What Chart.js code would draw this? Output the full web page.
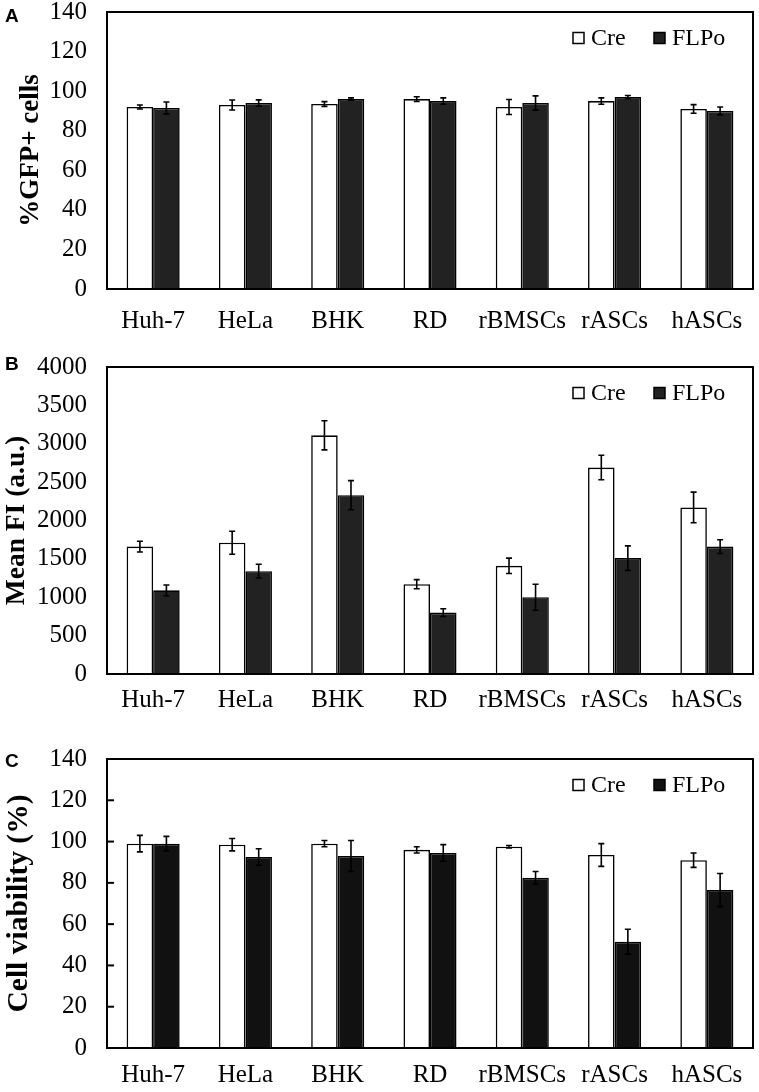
<!DOCTYPE html>
<html>
<head>
<meta charset="utf-8">
<script src="https://cdn.jsdelivr.net/npm/chart.js@4.4.1/dist/chart.umd.min.js"></script>
<style>
  body { margin: 0; background: #fff; width: 759px; height: 1092px; position: relative; overflow: hidden; }
  .panel { position: absolute; left: 0; width: 759px; }
  .tag { position: absolute; left: 5px; font: bold 19px "Liberation Sans", Arial, sans-serif; line-height: 1; }
</style>
</head>
<body>
<div class="panel" style="top:0"><canvas id="chartA" width="759" height="345"></canvas></div>
<div class="panel" style="top:345px"><canvas id="chartB" width="759" height="375"></canvas></div>
<div class="panel" style="top:720px"><canvas id="chartC" width="759" height="372"></canvas></div>
<div class="tag" style="top:6px">A</div>
<div class="tag" style="top:354px">B</div>
<div class="tag" style="top:751px">C</div>

<script>
// cell lines
var cells = ['Huh-7', 'HeLa', 'BHK', 'RD', 'rBMSCs', 'rASCs', 'hASCs'];

// A: %GFP+ cells
var gfpCre     = [92, 93, 93.5, 96, 92, 95, 91];
var gfpCreErr  = [1, 2.5, 1.2, 1.2, 3.8, 1.6, 2.2];
var gfpFlp     = [91.5, 94, 96, 95, 94, 97, 90];
var gfpFlpErr  = [3, 1.6, 0.6, 1.6, 3.6, 0.8, 2];

// B: mean FI (a.u.)
var fiCre      = [1660, 1710, 3110, 1170, 1410, 2690, 2170];
var fiCreErr   = [70, 150, 190, 60, 100, 160, 200];
var fiFlp      = [1090, 1340, 2330, 800, 1000, 1510, 1660];
var fiFlpErr   = [70, 90, 190, 50, 170, 160, 90];

// C: cell viability (%)
var viaCre     = [99, 98.5, 99, 96, 97.5, 93.5, 91];
var viaCreErr  = [4, 3, 1.5, 1.5, 0.6, 5.5, 3.5];
var viaFlp     = [99, 92.5, 93, 94.5, 82.5, 51.5, 76.5];
var viaFlpErr  = [3.5, 4, 7.5, 4, 3, 6, 8];

Chart.defaults.font.family = '"Liberation Serif", "Times New Roman", serif';
Chart.defaults.color = '#000';

var errPlugin = {            // error bars + frame + legend
  id: 'errs',
  afterDatasetsDraw: function(chart) {
    var ctx = chart.ctx, y = chart.scales.y, a = chart.chartArea;
    ctx.save();
    ctx.strokeStyle = '#000';
    ctx.lineWidth = 1.6;
    chart.data.datasets.forEach(function(ds, i) {
      chart.getDatasetMeta(i).data.forEach(function(bar, j) {
        var v = ds.data[j], e = ds.err[j];
        var y1 = y.getPixelForValue(v + e), y2 = y.getPixelForValue(v - e);
        ctx.beginPath();
        ctx.moveTo(bar.x, y1); ctx.lineTo(bar.x, y2);
        ctx.moveTo(bar.x - 3, y1); ctx.lineTo(bar.x + 3, y1);
        ctx.moveTo(bar.x - 3, y2); ctx.lineTo(bar.x + 3, y2);
        ctx.stroke();
      });
    });
    // frame
    ctx.lineWidth = 2;
    ctx.strokeRect(a.left, a.top, a.right - a.left, a.bottom - a.top);
    // inner ticks (panel C only)
    if (chart.options.innerTicks) {
      y.ticks.forEach(function(t) {
        var py = y.getPixelForValue(t.value);
        ctx.beginPath(); ctx.moveTo(a.left, py); ctx.lineTo(a.left + 7, py); ctx.stroke();
      });
    }
    // legend
    var ly = a.top + 26;
    ctx.font = '24px "Liberation Serif", serif';
    ctx.textBaseline = 'middle';
    var xs = [573, 654];
    chart.data.datasets.forEach(function(ds, i) {
      ctx.lineWidth = 1.5;
      ctx.fillStyle = ds.backgroundColor;
      ctx.fillRect(xs[i], ly - 5.5, 11, 11);
      ctx.strokeRect(xs[i], ly - 5.5, 11, 11);
      ctx.fillStyle = '#000';
      ctx.fillText(ds.label, xs[i] + 18, ly + 1);
    });
    ctx.restore();
  }
};

function makeChart(id, cre, creErr, flp, flpErr, max, step, title, opt) {
  var ctx = document.getElementById(id).getContext('2d');
  return new Chart(ctx, {
    type: 'bar',
    data: {
      labels: cells,
      datasets: [
        { label: 'Cre', data: cre, err: creErr, backgroundColor: '#ffffff', borderColor: '#000', borderWidth: 1.6 },
        { label: 'FLPo', data: flp, err: flpErr, backgroundColor: opt.flpColor, borderColor: '#000', borderWidth: 1.6 }
      ]
    },
    options: {
      responsive: false,
      animation: false,
      innerTicks: opt.innerTicks,
      layout: { padding: { top: opt.top, right: 6, left: 0, bottom: 0 } },
      plugins: { legend: { display: false }, tooltip: { enabled: false } },
      datasets: { bar: { barPercentage: 1, categoryPercentage: 0.575 } },
      scales: {
        x: {
          grid: { display: false },
          border: { display: false },
          ticks: { font: { size: 25 }, padding: opt.xPad, maxRotation: 0, autoSkip: false },
          afterFit: function(s) { s.height = opt.h - opt.bottom; }
        },
        y: {
          min: 0, max: max,
          grid: { display: false },
          border: { display: false },
          ticks: { stepSize: step, font: { size: 25 }, padding: 12, callback: function(v) { return v; } },
          title: { display: true, text: title, font: { size: opt.titleSize, weight: 'bold' }, padding: { top: opt.titlePad, bottom: 0 } },
          afterFit: function(s) { s.width = 107; s.paddingTop = 0; s.paddingBottom = 0; }
        }
      }
    },
    plugins: [errPlugin]
  });
}

makeChart('chartA', gfpCre, gfpCreErr, gfpFlp, gfpFlpErr, 140, 20, '%GFP+ cells',
  { flpColor: '#222222', top: 12, bottom: 289, h: 345, xPad: 9, titleSize: 27, titlePad: 15, innerTicks: false });
makeChart('chartB', fiCre, fiCreErr, fiFlp, fiFlpErr, 4000, 500, 'Mean FI (a.u.)',
  { flpColor: '#222222', top: 22, bottom: 329, h: 375, xPad: 3, titleSize: 27.5, titlePad: 0, innerTicks: false });
makeChart('chartC', viaCre, viaCreErr, viaFlp, viaFlpErr, 140, 20, 'Cell viability (%)',
  { flpColor: '#111111', top: 39, bottom: 328, h: 372, xPad: 4, titleSize: 29.5, titlePad: 2, innerTicks: true });
</script>
</body>
</html>
